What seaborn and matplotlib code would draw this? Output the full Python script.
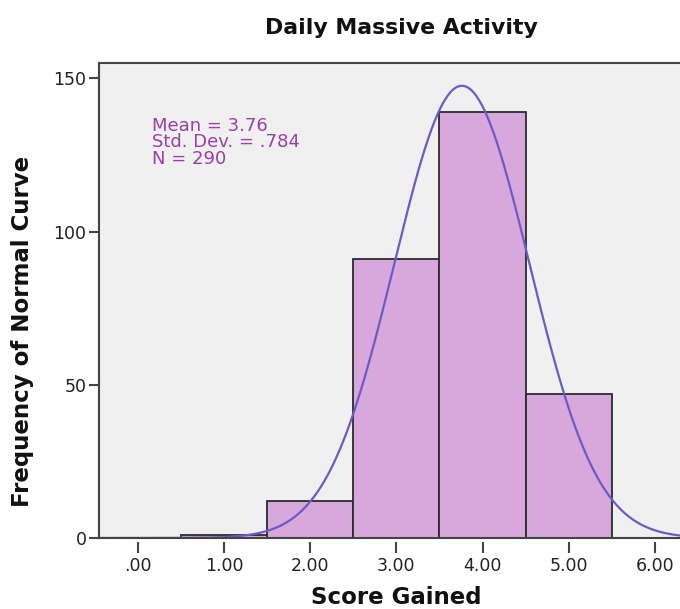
import numpy as np
import pandas as pd
import matplotlib
matplotlib.use("Agg")
import matplotlib.pyplot as plt
import seaborn as sns

# Data
scores = [1, 2, 3, 4, 5]
counts = [1, 12, 91, 139, 47]
x_ticks = [0, 1, 2, 3, 4, 5, 6]
x_tick_labels = [".00", "1.00", "2.00", "3.00", "4.00", "5.00", "6.00"]
y_ticks = [0, 50, 100, 150]
mean_val = 3.76
sd_val = 0.784
n_val = 290

sns.set_style("white")
plt.rcParams['font.family'] = ['DejaVu Sans']

fig = plt.figure(figsize=(6.8, 6.09), dpi=100)
ax = fig.add_axes([99/680, 71/609, 1 - 99/680, (538-63)/609])
ax.set_facecolor('#F0F0F0')

df = pd.DataFrame({"score": scores, "count": counts})
sns.histplot(data=df, x="score", weights="count", bins=[0.5, 1.5, 2.5, 3.5, 4.5, 5.5],
             color='#D8A8DC', alpha=1.0, edgecolor='#2b2b2b', linewidth=1.3, ax=ax)

# Normal curve from stated mean / sd / N (bin width 1)
xs = np.linspace(-0.45, 6.3, 400)
ys = n_val * 1.0 / (sd_val * np.sqrt(2 * np.pi)) * np.exp(-0.5 * ((xs - mean_val) / sd_val) ** 2)
sns.lineplot(x=xs, y=ys, color='#6A5CC8', linewidth=1.6, ax=ax)

ax.set_xlim(-0.45, 6.29)
ax.set_ylim(0, 155)
ax.set_xticks(x_ticks)
ax.set_xticklabels(x_tick_labels)
ax.set_yticks(y_ticks)
ax.tick_params(axis='both', bottom=True, left=True, direction='out', width=1.5,
               color='#444444', labelsize=12.5, labelcolor='#222222')
ax.tick_params(axis='x', length=8, pad=3)
ax.tick_params(axis='y', length=7, pad=2)
for side in ['left', 'top', 'bottom']:
    ax.spines[side].set_color('#444444')
    ax.spines[side].set_linewidth(1.5)
ax.spines['right'].set_visible(False)
# x ticks sit a little below the frame, as in the reference
ax.spines['bottom'].set_position(('outward', 3))
ax.spines['bottom'].set_visible(False)
ax.axhline(0, color='#444444', linewidth=1.5, zorder=5, clip_on=False)

ax.set_xlabel("")
ax.set_ylabel("")

ax.text(0.17, 137.5, "Mean = 3.76\nStd. Dev. = .784\nN = 290", color='#9B3FA8',
        fontsize=13, va='top', ha='left', linespacing=0.9)

fig.text(401/680, 1 - 28/609, "Daily Massive Activity", ha='center', va='center',
         fontsize=15.8, fontweight='bold', color='#111111')
fig.text(396/680, 1 - 598/609, "Score Gained", ha='center', va='center',
         fontsize=16.5, fontweight='bold', color='#111111')
fig.text(23/680, 1 - 331/609, "Frequency of Normal Curve", ha='center', va='center',
         rotation=90, fontsize=16.5, fontweight='bold', color='#111111')

fig.savefig("out.png", dpi=100, facecolor='white')
